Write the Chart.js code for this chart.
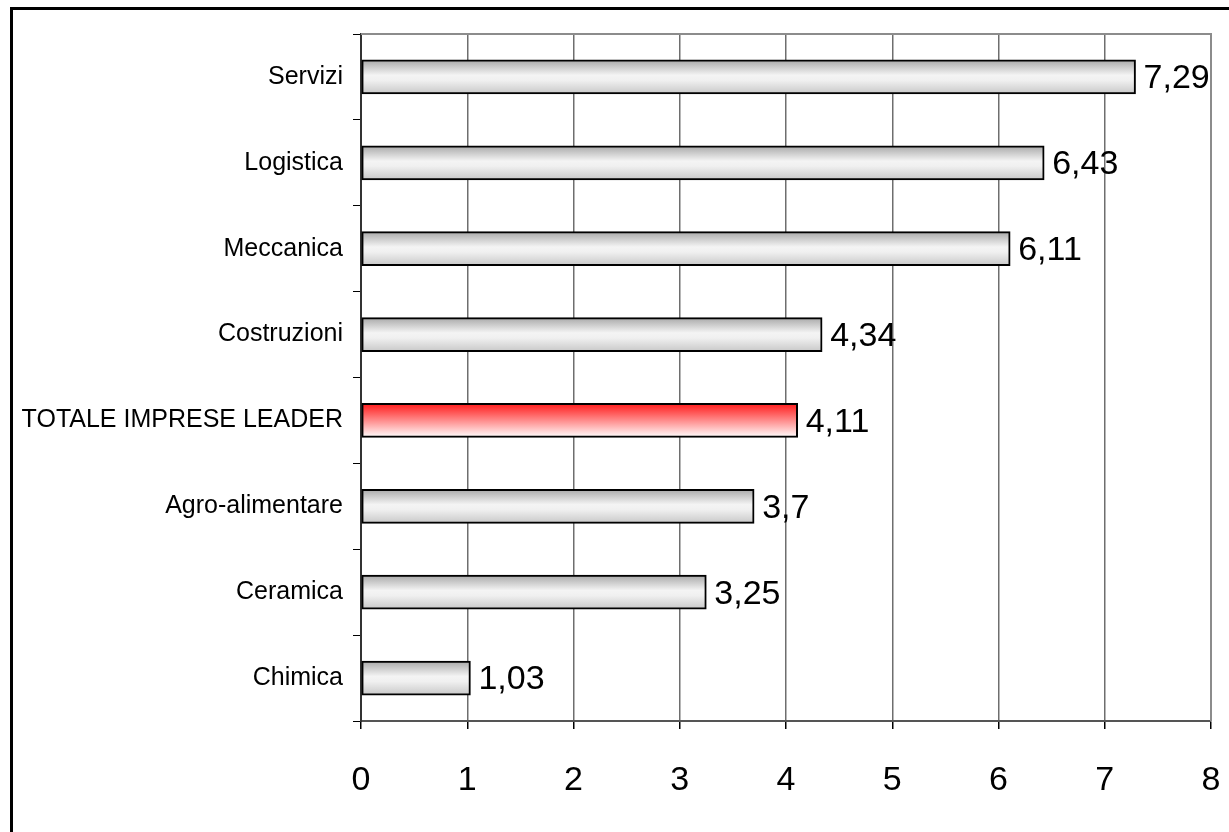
<!DOCTYPE html>
<html>
<head>
<meta charset="utf-8">
<script src="https://cdn.jsdelivr.net/npm/chart.js@4"></script>
<style>
  html, body { margin: 0; padding: 0; background: #fff; }
  #wrap { width: 1229px; height: 832px; position: relative; }
</style>
</head>
<body>
<div id="wrap"><canvas id="chart"></canvas></div>
<script>
// Categories and values
const categories = ["Servizi", "Logistica", "Meccanica", "Costruzioni", "TOTALE IMPRESE LEADER", "Agro-alimentare", "Ceramica", "Chimica"];
const values = [7.29, 6.43, 6.11, 4.34, 4.11, 3.7, 3.25, 1.03];
const highlight = "TOTALE IMPRESE LEADER";
const xTicks = [0, 1, 2, 3, 4, 5, 6, 7, 8];

const FONT = "'Liberation Sans', Arial, sans-serif";
const BAR_H = 34;

// Vertical gradient for each bar, built from the y scale position
function barFill(ctx) {
    const chart = ctx.chart;
    const yScale = chart.scales.y;
    const isRed = categories[ctx.dataIndex] === highlight;
    if (!yScale || ctx.dataIndex === undefined) return isRed ? "#ff8080" : "#ddd";
    const center = yScale.getPixelForValue(ctx.dataIndex);
    if (!isFinite(center)) return isRed ? "#ff8080" : "#ddd";
    const top = center - BAR_H / 2;
    const g = chart.ctx.createLinearGradient(0, top, 0, top + BAR_H);
    if (isRed) {
        g.addColorStop(0, "#ff1a1a");
        g.addColorStop(0.45, "#ff8080");
        g.addColorStop(1, "#ffffff");
    } else {
        g.addColorStop(0, "#a8a8a8");
        g.addColorStop(0.45, "#f4f4f4");
        g.addColorStop(0.6, "#f0f0f0");
        g.addColorStop(1, "#c8c8c8");
    }
    return g;
}

// Gray frame of the plot area and the black outer border
const framePlugin = {
    id: "frame",
    beforeDatasetsDraw(chart) {
        const { ctx, chartArea: a } = chart;
        ctx.save();
        ctx.strokeStyle = "#8c8c8c";
        ctx.lineWidth = 2;
        ctx.beginPath();
        ctx.moveTo(a.left, a.top);
        ctx.lineTo(a.right, a.top);
        ctx.lineTo(a.right, a.bottom);
        ctx.stroke();
        ctx.restore();
    },
    afterDraw(chart) {
        const ctx = chart.ctx;
        ctx.save();
        ctx.strokeStyle = "#000";
        ctx.lineWidth = 3;
        ctx.strokeRect(11.5, 8.5, 1400, 1000);
        ctx.restore();
    }
};

// Value labels at the end of each bar, with comma decimals
const valueLabels = {
    id: "valueLabels",
    afterDatasetsDraw(chart) {
        const ctx = chart.ctx;
        const meta = chart.getDatasetMeta(0);
        ctx.save();
        ctx.font = "34px " + FONT;
        ctx.fillStyle = "#000";
        ctx.textAlign = "left";
        ctx.textBaseline = "middle";
        meta.data.forEach((bar, i) => {
            const txt = String(values[i]).replace(".", ",");
            ctx.fillText(txt, bar.x + 8, bar.y + 2);
        });
        ctx.restore();
    }
};

new Chart(document.getElementById("chart"), {
    type: "bar",
    data: {
        labels: categories,
        datasets: [{
            data: values,
            backgroundColor: barFill,
            borderColor: "#000",
            borderWidth: 2,
            borderSkipped: false,
            barThickness: BAR_H
        }]
    },
    options: {
        indexAxis: "y",
        responsive: true,
        maintainAspectRatio: false,
        animation: false,
        layout: { padding: { top: 34, right: 18, left: 0, bottom: 0 } },
        plugins: {
            legend: { display: false },
            tooltip: { enabled: false }
        },
        scales: {
            x: {
                min: 0,
                max: 8,
                afterBuildTicks(scale) {
                    scale.ticks = xTicks.map(v => ({ value: v }));
                },
                afterFit(scale) {
                    scale.height = 111;
                    scale.paddingLeft = 0;
                    scale.paddingRight = 0;
                },
                grid: {
                    color: "#6e6e6e",
                    lineWidth: 1.5,
                    tickColor: "#000",
                    tickLength: 8
                },
                border: { color: "#555", width: 2 },
                ticks: {
                    color: "#000",
                    padding: 31,
                    font: { family: FONT, size: 34 }
                }
            },
            y: {
                afterFit(scale) {
                    scale.width = 361;
                    scale.paddingTop = 0;
                    scale.paddingBottom = 0;
                },
                grid: {
                    drawOnChartArea: false,
                    offset: true,
                    tickColor: "#000",
                    tickLength: 8
                },
                border: { color: "#333", width: 2 },
                ticks: {
                    color: "#000",
                    padding: 10,
                    font: { family: FONT, size: 25 }
                }
            }
        }
    },
    plugins: [framePlugin, valueLabels]
});
</script>
</body>
</html>
